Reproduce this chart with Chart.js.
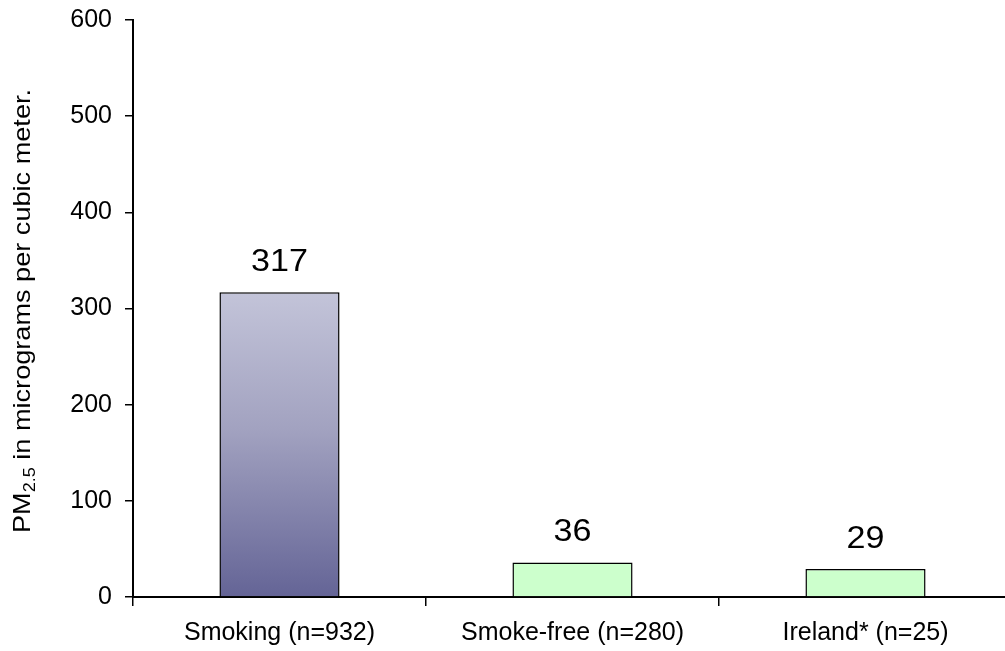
<!DOCTYPE html>
<html>
<head>
<meta charset="utf-8">
<script src="https://cdn.jsdelivr.net/npm/chart.js@4"></script>
<style>
html,body{margin:0;padding:0;background:#fff;overflow:hidden;}
#wrap{width:1005px;height:651px;position:relative;overflow:hidden;}
#inner{width:1012px;height:651px;position:absolute;left:0;top:0;}
</style>
</head>
<body>
<div id="wrap"><div id="inner"><canvas id="c"></canvas></div></div>
<script>
const categories = ["Smoking (n=932)", "Smoke-free (n=280)", "Ireland* (n=25)"];
const values = [317, 36, 29];
const yTicks = [0, 100, 200, 300, 400, 500, 600];
const yTitleMain = "PM";
const yTitleSub = "2.5";
const yTitleRest = " in micrograms per cubic meter.";

const FONT = "'Liberation Sans', Arial, sans-serif";

function barFill(ctx) {
  const chart = ctx.chart;
  if (!chart.chartArea) return '#ccffcc';
  if (ctx.dataIndex === 0) {
    const ys = chart.scales.y;
    const top = ys.getPixelForValue(values[0]);
    const bottom = ys.getPixelForValue(0);
    const g = chart.ctx.createLinearGradient(0, top, 0, bottom);
    g.addColorStop(0, '#c3c4d9');
    g.addColorStop(0.45, '#a2a2c0');
    g.addColorStop(1, '#646496');
    return g;
  }
  return '#ccffcc';
}

const labelPlugin = {
  id: 'valueLabels',
  afterDatasetsDraw(chart) {
    const ctx = chart.ctx;
    const meta = chart.getDatasetMeta(0);
    ctx.save();
    ctx.font = "31px " + FONT;
    ctx.fillStyle = '#000';
    ctx.textAlign = 'center';
    ctx.textBaseline = 'alphabetic';
    meta.data.forEach((bar, i) => {
      ctx.save();
      ctx.translate(bar.x, bar.y - 21);
      ctx.scale(1.1, 1);
      ctx.fillText(String(values[i]), 0, 0);
      ctx.restore();
    });
    ctx.restore();
  }
};

const yTitlePlugin = {
  id: 'yTitle',
  afterDraw(chart) {
    const ctx = chart.ctx;
    const big = "24px " + FONT;
    const small = "16px " + FONT;
    const stretch = 1.13;
    ctx.save();
    ctx.font = big; const w1 = ctx.measureText(yTitleMain).width;
    const w3 = ctx.measureText(yTitleRest).width;
    ctx.font = small; const w2 = ctx.measureText(yTitleSub).width;
    const total = w1 + w2 + w3;
    ctx.translate(30, 311);
    ctx.rotate(-Math.PI / 2);
    ctx.scale(stretch, 1);
    ctx.fillStyle = '#000';
    ctx.textBaseline = 'alphabetic';
    ctx.textAlign = 'left';
    let x = -total / 2;
    ctx.font = big; ctx.fillText(yTitleMain, x, 0); x += w1;
    ctx.font = small; ctx.fillText(yTitleSub, x, 5); x += w2;
    ctx.font = big; ctx.fillText(yTitleRest, x, 0);
    ctx.restore();
  }
};

new Chart(document.getElementById('c'), {
  type: 'bar',
  data: {
    labels: categories,
    datasets: [{
      data: values,
      backgroundColor: barFill,
      borderColor: '#000',
      borderWidth: 1.5,
      borderSkipped: 'bottom',
      barPercentage: 0.41,
      categoryPercentage: 1.0
    }]
  },
  options: {
    responsive: true,
    maintainAspectRatio: false,
    animation: false,
    devicePixelRatio: 1,
    layout: { padding: { top: 20, right: 0, left: 0, bottom: 0 } },
    plugins: { legend: { display: false }, tooltip: { enabled: false } },
    scales: {
      x: {
        offset: true,
        grid: { display: true, drawOnChartArea: false, drawTicks: true, tickLength: 9, color: '#000', lineWidth: 1.5, offset: true },
        border: { display: true, color: '#000', width: 2 },
        ticks: { color: '#000', font: { family: FONT, size: 25 }, padding: 12, maxRotation: 0 },
        afterFit(s) { s.height = 54; s.paddingLeft = 0; s.paddingRight = 0; }
      },
      y: {
        min: 0, max: 600,
        afterBuildTicks(s) { s.ticks = yTicks.map(v => ({ value: v })); },
        grid: { display: true, drawOnChartArea: false, drawTicks: true, tickLength: 8, color: '#000', lineWidth: 1.5 },
        border: { display: true, color: '#000', width: 2 },
        ticks: { color: '#000', font: { family: FONT, size: 25 }, padding: 13 },
        afterFit(s) { s.width = 133; s.paddingTop = 0; s.paddingBottom = 0; }
      }
    }
  },
  plugins: [labelPlugin, yTitlePlugin]
});
</script>
</body>
</html>
